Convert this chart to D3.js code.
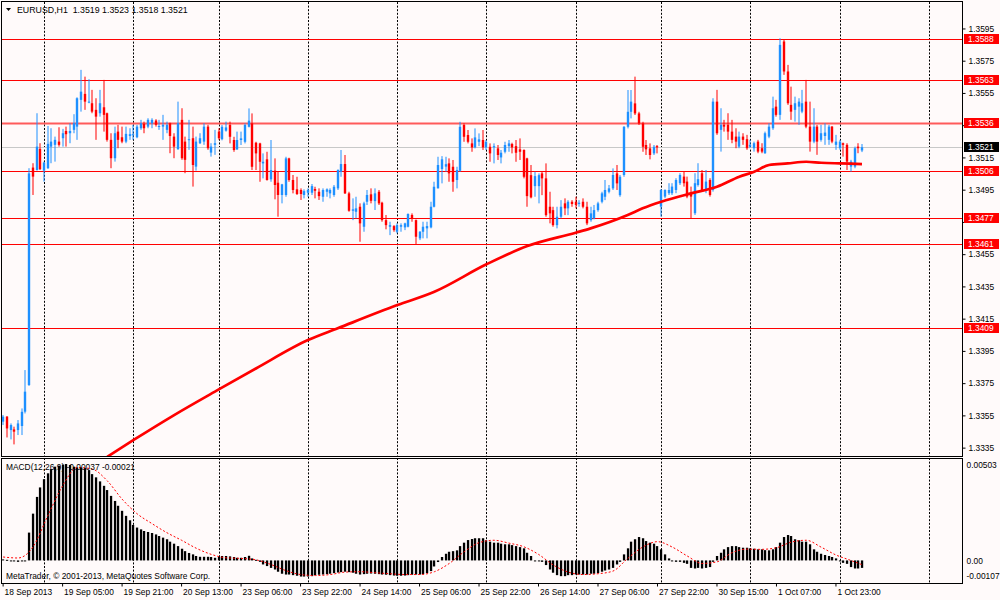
<!DOCTYPE html>
<html>
<head>
<meta charset="utf-8">
<script src="https://cdn.jsdelivr.net/npm/d3@7"></script>
<style>
  body { margin: 0; background: #fffafa; }
  svg { display: block; }
  text { font-family: "Liberation Sans", Arial, sans-serif; font-size: 8.4px; fill: #000; }
</style>
</head>
<body>
<div id="chart"></div>
<script>
// EURUSD H1 bars, 18 Sep 2013 13:00 .. 2 Oct 2013 06:00
const open = [1.33508,1.33539,1.33456,1.33460,1.33456,1.33481,1.33570,1.33735,1.35084,1.35069,
  1.35200,1.35065,1.35080,1.35214,1.35225,1.35245,1.35266,1.35311,1.35297,1.35318,
  1.35338,1.35504,1.35541,1.35487,1.35483,1.35442,1.35421,1.35458,1.35421,1.35256,
  1.35142,1.35307,1.35272,1.35245,1.35280,1.35287,1.35272,1.35328,1.35355,1.35338,
  1.35359,1.35376,1.35338,1.35338,1.35318,1.35359,1.35276,1.35198,1.35380,1.35245,
  1.35256,1.35266,1.35090,1.35235,1.35245,1.35338,1.35177,1.35225,1.35307,1.35260,
  1.35313,1.35348,1.35255,1.35197,1.35255,1.35244,1.35337,1.35358,1.35238,1.35234,
  1.35110,1.35135,1.35011,1.35065,1.34990,1.34914,1.34914,1.35141,1.35007,1.34949,
  1.34945,1.34914,1.34928,1.34928,1.34951,1.34934,1.34903,1.34934,1.34924,1.34914,
  1.34955,1.35058,1.35106,1.34924,1.34816,1.34810,1.34841,1.34717,1.34872,1.34918,
  1.34876,1.34934,1.34866,1.34758,1.34717,1.34721,1.34686,1.34717,1.34713,1.34717,
  1.34790,1.34758,1.34645,1.34686,1.34707,1.34713,1.34841,1.34955,1.35075,1.35090,
  1.35110,1.35089,1.35007,1.35064,1.35348,1.35286,1.35234,1.35209,1.35244,1.35255,
  1.35209,1.35213,1.35209,1.35203,1.35147,1.35182,1.35217,1.35230,1.35217,1.35197,
  1.35193,1.35141,1.35037,1.34969,1.34969,1.35048,1.35017,1.34841,1.34820,1.34727,
  1.34779,1.34862,1.34831,1.34872,1.34872,1.34858,1.34872,1.34841,1.34758,1.34769,
  1.34820,1.34872,1.34903,1.34934,1.34955,1.35048,1.34913,1.35038,1.35337,1.35430,
  1.35482,1.35420,1.35358,1.35224,1.35203,1.35172,1.35217,1.34842,1.34904,1.34925,
  1.34925,1.34945,1.34987,1.35028,1.34997,1.34925,1.34801,1.34976,1.35049,1.34945,
  1.35007,1.34945,1.35493,1.35318,1.35349,1.35349,1.35307,1.35276,1.35214,1.35276,
  1.35260,1.35214,1.35204,1.35245,1.35204,1.35173,1.35276,1.35328,1.35462,1.35411,
  1.35866,1.35680,1.35473,1.35442,1.35462,1.35431,1.35493,1.35338,1.35245,1.35338,
  1.35256,1.35280,1.35256,1.35338,1.35225,1.35204,1.35235,1.35225,1.35090,1.35090,
  1.35214,1.35190];
const high = [1.33549,1.33543,1.33497,1.33477,1.33518,1.33590,1.33828,1.35080,1.35111,1.35421,
  1.35235,1.35121,1.35342,1.35328,1.35276,1.35334,1.35324,1.35338,1.35359,1.35415,
  1.35520,1.35690,1.35648,1.35632,1.35566,1.35514,1.35566,1.35628,1.35425,1.35297,
  1.35338,1.35349,1.35338,1.35338,1.35328,1.35349,1.35349,1.35380,1.35369,1.35390,
  1.35390,1.35384,1.35380,1.35411,1.35369,1.35363,1.35297,1.35493,1.35452,1.35276,
  1.35380,1.35338,1.35276,1.35297,1.35359,1.35349,1.35235,1.35318,1.35328,1.35348,
  1.35369,1.35369,1.35275,1.35307,1.35307,1.35358,1.35451,1.35420,1.35244,1.35238,
  1.35172,1.35182,1.35255,1.35141,1.35058,1.34983,1.35151,1.35145,1.35038,1.35027,
  1.34955,1.34949,1.34955,1.34982,1.34965,1.34955,1.34955,1.34955,1.34955,1.34976,
  1.35073,1.35193,1.35162,1.34934,1.34893,1.34903,1.34862,1.34872,1.34945,1.34955,
  1.34955,1.34945,1.34872,1.34790,1.34748,1.34727,1.34738,1.34738,1.34742,1.34800,
  1.34800,1.34762,1.34690,1.34748,1.34748,1.34872,1.34996,1.35151,1.35155,1.35151,
  1.35141,1.35131,1.35089,1.35368,1.35358,1.35317,1.35265,1.35327,1.35296,1.35317,
  1.35255,1.35234,1.35234,1.35224,1.35193,1.35244,1.35255,1.35238,1.35255,1.35265,
  1.35197,1.35145,1.35100,1.35058,1.35048,1.35058,1.35110,1.34934,1.34841,1.34841,
  1.34882,1.34893,1.34882,1.34882,1.34903,1.34882,1.34893,1.34872,1.34841,1.34852,
  1.34872,1.34934,1.35007,1.34976,1.35079,1.35100,1.35038,1.35341,1.35565,1.35565,
  1.35648,1.35430,1.35368,1.35255,1.35234,1.35224,1.35224,1.34950,1.34949,1.34987,
  1.34987,1.35018,1.35049,1.35059,1.35028,1.34966,1.35049,1.35111,1.35069,1.35069,
  1.35018,1.35514,1.35566,1.35452,1.35380,1.35421,1.35380,1.35328,1.35307,1.35297,
  1.35287,1.35256,1.35245,1.35256,1.35235,1.35307,1.35359,1.35524,1.35504,1.35886,
  1.35876,1.35721,1.35586,1.35524,1.35514,1.35566,1.35628,1.35493,1.35452,1.35349,
  1.35349,1.35359,1.35349,1.35342,1.35287,1.35256,1.35239,1.35235,1.35132,1.35214,
  1.35235,1.35230];
const low = [1.33487,1.33410,1.33398,1.33367,1.33425,1.33425,1.33559,1.33730,1.34914,1.35065,
  1.35069,1.34997,1.35076,1.35111,1.35121,1.35214,1.35214,1.35214,1.35235,1.35297,
  1.35256,1.35431,1.35442,1.35483,1.35421,1.35256,1.35400,1.35307,1.35245,1.35080,
  1.35121,1.35204,1.35235,1.35235,1.35256,1.35256,1.35266,1.35318,1.35297,1.35328,
  1.35328,1.35338,1.35318,1.35256,1.35297,1.35173,1.35142,1.35194,1.35132,1.35049,
  1.35194,1.34966,1.35065,1.35230,1.35225,1.35194,1.35152,1.35163,1.35256,1.35253,
  1.35307,1.35234,1.35182,1.35193,1.35224,1.35234,1.35333,1.35069,1.35069,1.34996,
  1.35017,1.35003,1.34996,1.34887,1.34779,1.34862,1.34903,1.34996,1.34924,1.34914,
  1.34883,1.34893,1.34903,1.34914,1.34893,1.34883,1.34872,1.34903,1.34893,1.34903,
  1.34945,1.35027,1.34920,1.34810,1.34758,1.34769,1.34624,1.34686,1.34852,1.34862,
  1.34821,1.34852,1.34748,1.34701,1.34665,1.34686,1.34676,1.34686,1.34696,1.34713,
  1.34748,1.34610,1.34634,1.34645,1.34645,1.34707,1.34837,1.34955,1.34986,1.35058,
  1.34996,1.34934,1.34955,1.35058,1.35244,1.35234,1.35182,1.35203,1.35217,1.35193,
  1.35193,1.35120,1.35110,1.35131,1.35110,1.35172,1.35182,1.35172,1.35120,1.35131,
  1.35017,1.34841,1.34893,1.34903,1.34862,1.34913,1.34779,1.34738,1.34717,1.34707,
  1.34769,1.34789,1.34789,1.34841,1.34831,1.34841,1.34831,1.34727,1.34748,1.34763,
  1.34810,1.34862,1.34882,1.34924,1.34945,1.34945,1.34903,1.35027,1.35327,1.35389,
  1.35410,1.35348,1.35182,1.35162,1.35135,1.35162,1.35172,1.34780,1.34894,1.34914,
  1.34914,1.34925,1.34976,1.34966,1.34894,1.34770,1.34790,1.34966,1.34935,1.34925,
  1.34904,1.34935,1.35287,1.35183,1.35307,1.35256,1.35235,1.35204,1.35204,1.35225,
  1.35194,1.35204,1.35183,1.35173,1.35173,1.35169,1.35266,1.35318,1.35400,1.35380,
  1.35659,1.35473,1.35380,1.35369,1.35349,1.35421,1.35328,1.35183,1.35235,1.35163,
  1.35245,1.35225,1.35225,1.35235,1.35194,1.35194,1.35152,1.35069,1.35059,1.35080,
  1.35173,1.35180];
const close = [1.33539,1.33466,1.33487,1.33446,1.33497,1.33569,1.33694,1.35048,1.35028,1.35214,
  1.35074,1.35115,1.35231,1.35245,1.35256,1.35225,1.35297,1.35291,1.35311,1.35359,
  1.35514,1.35555,1.35493,1.35493,1.35431,1.35400,1.35483,1.35411,1.35256,1.35142,
  1.35297,1.35256,1.35245,1.35293,1.35291,1.35291,1.35338,1.35359,1.35328,1.35380,
  1.35380,1.35349,1.35342,1.35349,1.35349,1.35280,1.35214,1.35359,1.35142,1.35132,
  1.35260,1.35100,1.35245,1.35266,1.35338,1.35204,1.35214,1.35235,1.35266,1.35337,
  1.35333,1.35275,1.35193,1.35255,1.35265,1.35348,1.35375,1.35089,1.35172,1.35120,
  1.35120,1.35007,1.35069,1.34976,1.34914,1.34980,1.35141,1.35007,1.34945,1.34920,
  1.34920,1.34938,1.34945,1.34969,1.34940,1.34907,1.34945,1.34949,1.34945,1.34965,
  1.35069,1.35106,1.34924,1.34816,1.34825,1.34831,1.34738,1.34862,1.34914,1.34878,
  1.34924,1.34862,1.34758,1.34727,1.34727,1.34696,1.34727,1.34727,1.34738,1.34796,
  1.34769,1.34655,1.34686,1.34717,1.34721,1.34841,1.34965,1.35100,1.35135,1.35105,
  1.35048,1.34996,1.35069,1.35337,1.35275,1.35244,1.35209,1.35271,1.35259,1.35209,
  1.35244,1.35172,1.35217,1.35162,1.35176,1.35224,1.35234,1.35209,1.35176,1.35182,
  1.35027,1.34907,1.34899,1.35031,1.35037,1.35017,1.34789,1.34800,1.34727,1.34779,
  1.34841,1.34831,1.34872,1.34858,1.34852,1.34866,1.34841,1.34738,1.34800,1.34820,
  1.34862,1.34924,1.34945,1.34955,1.35038,1.34986,1.35027,1.35337,1.35430,1.35493,
  1.35420,1.35358,1.35213,1.35197,1.35162,1.35213,1.35209,1.34945,1.34945,1.34945,
  1.34966,1.35007,1.35038,1.34987,1.34904,1.34904,1.34987,1.35012,1.34945,1.34997,
  1.34914,1.35493,1.35297,1.35349,1.35338,1.35307,1.35256,1.35245,1.35276,1.35256,
  1.35204,1.35225,1.35235,1.35183,1.35183,1.35297,1.35338,1.35452,1.35411,1.35845,
  1.35680,1.35483,1.35431,1.35483,1.35493,1.35483,1.35338,1.35245,1.35338,1.35245,
  1.35297,1.35301,1.35338,1.35245,1.35245,1.35245,1.35225,1.35121,1.35121,1.35204,
  1.35204,1.35210];

// moving average, read at these bar indices
const maIdx = [28,35,46,58,68,82,90,106,116,130,141,154,158,168,172,177,185,192,198,202,206,211,216,220,225,231];
const maVal = [1.33290,1.33393,1.33549,1.33708,1.33838,1.34014,1.34087,1.34231,1.34314,1.34484,1.34597,1.34680,1.34707,
  1.34790,1.34831,1.34872,1.34924,1.34965,1.35027,1.35058,1.35100,1.35110,1.35120,1.35114,1.35110,1.35106];

// MACD(12,26,9) main histogram, one value per bar
const macd = [0.00005,0.00003,-0.00003,-0.00005,-0.00007,-0.00005,-0.00002,0.00138,0.00232,0.00315,
  0.00362,0.00403,0.00432,0.00453,0.00465,0.00470,0.00475,0.00478,0.00473,0.00465,
  0.00461,0.00461,0.00458,0.00448,0.00428,0.00412,0.00392,0.00370,0.00349,0.00320,
  0.00295,0.00271,0.00246,0.00221,0.00199,0.00176,0.00163,0.00154,0.00146,0.00141,
  0.00136,0.00129,0.00121,0.00113,0.00105,0.00093,0.00083,0.00071,0.00058,0.00046,
  0.00037,0.00030,0.00022,0.00018,0.00018,0.00018,0.00017,0.00013,0.00017,0.00022,
  0.00022,0.00020,0.00017,0.00013,0.00013,0.00017,0.00023,0.00010,0.00003,-0.00007,
  -0.00020,-0.00028,-0.00037,-0.00045,-0.00056,-0.00066,-0.00070,-0.00070,-0.00073,-0.00076,
  -0.00080,-0.00080,-0.00080,-0.00078,-0.00073,-0.00071,-0.00070,-0.00068,-0.00066,-0.00063,
  -0.00060,-0.00058,-0.00056,-0.00058,-0.00061,-0.00066,-0.00070,-0.00068,-0.00066,-0.00065,
  -0.00066,-0.00068,-0.00070,-0.00071,-0.00073,-0.00075,-0.00076,-0.00076,-0.00075,-0.00073,
  -0.00071,-0.00070,-0.00070,-0.00068,-0.00063,-0.00053,-0.00030,-0.00008,0.00017,0.00033,
  0.00043,0.00046,0.00050,0.00071,0.00088,0.00101,0.00106,0.00110,0.00110,0.00110,
  0.00100,0.00093,0.00088,0.00088,0.00083,0.00080,0.00080,0.00076,0.00071,0.00066,
  0.00060,0.00038,0.00022,0.00000,-0.00003,-0.00007,-0.00023,-0.00045,-0.00061,-0.00073,
  -0.00078,-0.00078,-0.00073,-0.00073,-0.00070,-0.00070,-0.00070,-0.00070,-0.00066,-0.00066,
  -0.00063,-0.00056,-0.00050,-0.00045,-0.00037,-0.00020,-0.00007,0.00030,0.00060,0.00093,
  0.00105,0.00116,0.00110,0.00096,0.00088,0.00083,0.00071,0.00055,0.00030,0.00010,
  0.00000,-0.00007,-0.00007,-0.00012,-0.00017,-0.00037,-0.00040,-0.00037,-0.00040,-0.00037,
  -0.00033,-0.00007,0.00022,0.00038,0.00055,0.00066,0.00071,0.00071,0.00066,0.00063,
  0.00063,0.00060,0.00058,0.00055,0.00055,0.00051,0.00050,0.00055,0.00066,0.00088,
  0.00116,0.00126,0.00121,0.00105,0.00100,0.00093,0.00093,0.00080,0.00055,0.00043,
  0.00033,0.00027,0.00022,0.00017,0.00010,0.00000,-0.00012,-0.00017,-0.00033,-0.00040,
  -0.00040,-0.00037];

// signal line, read at these bar indices
const sigIdx = [0,4,8,12,16,20,24,28,32,36,40,44,48,52,56,60,64,68,72,76,80,84,88,92,96,100,104,108,112,116,
  120,124,128,132,136,140,144,148,152,156,160,164,168,172,176,180,184,188,192,196,200,204,208,212,216,220,224,228,231];
const sigVal = [0.00017,0.00012,0.00066,0.00221,0.00370,0.00461,0.00453,0.00395,0.00304,0.00232,0.00183,0.00138,0.00100,
  0.00060,0.00030,0.00013,0.00010,0.00003,-0.00020,-0.00050,-0.00070,-0.00075,-0.00070,-0.00058,-0.00056,-0.00061,
  -0.00066,-0.00070,-0.00070,-0.00056,-0.00015,0.00043,0.00088,0.00100,0.00086,0.00068,0.00030,-0.00023,-0.00058,
  -0.00070,-0.00066,-0.00053,0.00010,0.00066,0.00093,0.00066,0.00022,-0.00015,-0.00007,0.00038,0.00056,0.00055,
  0.00063,0.00091,0.00100,0.00066,0.00027,0.00000,-0.00021];

// horizontal levels and current price
const levels = [1.3588, 1.3563, 1.3536, 1.3506, 1.3477, 1.3461, 1.3409];
const lastPrice = 1.3521;

// axis ticks
const priceTicks = [1.3595,1.3575,1.3555,1.3535,1.3515,1.3495,1.3475,1.3455,1.3435,1.3415,1.3395,1.3375,1.3355,1.3335];
const macdTicks = [0.00503, 0, -0.00107];
const macdTickLabels = ["0.00503", "0.00", "-0.00107"];
const dayStarts = [11,35,58,82,106,130,154,177,201,225,249];
const timeIdx = [0,16,32,48,64,80,96,112,128,144,160,176,192,208,224];
const timeLabels = ["18 Sep 2013","19 Sep 05:00","19 Sep 21:00","20 Sep 13:00","23 Sep 06:00","23 Sep 22:00",
  "24 Sep 14:00","25 Sep 06:00","25 Sep 22:00","26 Sep 14:00","27 Sep 06:00","27 Sep 22:00",
  "30 Sep 15:00","1 Oct 07:00","1 Oct 23:00"];

const width = 1000, height = 600;
const L = 2, R = 962, mainTop = 2, mainBot = 456, macdTop = 459, macdBot = 583;
const bull = "#1e90ff", bear = "#ff0000";

const x = d3.scaleLinear().domain([-0.3, 257.9]).range([L, R]);
const y = d3.scaleLinear().domain([1.33295, 1.36111]).range([mainBot, mainTop]);
const ym = d3.scaleLinear().domain([-0.00107, 0.00503]).range([582, 459]);
const px = v => Math.round(v) + 0.5;

const svg = d3.select("#chart").append("svg")
  .attr("width", width).attr("height", height);

svg.append("rect").attr("width", width).attr("height", height).attr("fill", "#fffafa");

const defs = svg.append("defs");
defs.append("clipPath").attr("id", "clipMain")
  .append("rect").attr("x", L).attr("y", mainTop).attr("width", R - L).attr("height", mainBot - mainTop);
defs.append("clipPath").attr("id", "clipMacd")
  .append("rect").attr("x", L).attr("y", macdTop).attr("width", R - L).attr("height", macdBot - macdTop);

// day separators (both panels)
[[mainTop, mainBot], [macdTop - 1, macdBot]].forEach(([t, b]) => {
  svg.append("g").selectAll("line").data(dayStarts).join("line")
    .attr("x1", d => px(x(d))).attr("x2", d => px(x(d)))
    .attr("y1", t).attr("y2", b)
    .attr("stroke", "#000").attr("stroke-width", 1).attr("stroke-dasharray", "2,1.6");
});

const main = svg.append("g").attr("clip-path", "url(#clipMain)");

// current price line
main.append("line")
  .attr("x1", L).attr("x2", R).attr("y1", px(y(lastPrice))).attr("y2", px(y(lastPrice)))
  .attr("stroke", "#c8c8c8");

// levels
main.selectAll(".level").data(levels).join("line")
  .attr("class", "level")
  .attr("x1", L).attr("x2", R)
  .attr("y1", d => px(y(d))).attr("y2", d => px(y(d)))
  .attr("stroke", d => d === 1.3536 ? "#ff5a5a" : "#ff0000")
  .attr("stroke-width", d => d === 1.3536 ? 2.2 : 1);

// candles
const bars = d3.range(close.length);
const candle = main.selectAll(".bar").data(bars).join("g").attr("class", "bar");
candle.append("line")
  .attr("x1", i => px(x(i)) - 0.5).attr("x2", i => px(x(i)) - 0.5)
  .attr("y1", i => y(high[i])).attr("y2", i => y(low[i]))
  .attr("stroke", i => close[i] >= open[i] ? bull : bear).attr("stroke-width", 1);
candle.append("rect")
  .attr("x", i => px(x(i)) - 1.7)
  .attr("width", 2.4)
  .attr("y", i => y(Math.max(open[i], close[i])))
  .attr("height", i => Math.max(1, Math.abs(y(open[i]) - y(close[i]))))
  .attr("fill", i => close[i] >= open[i] ? bull : bear);

// moving average
main.append("path")
  .datum(maIdx.map((d, k) => [d, maVal[k]]))
  .attr("fill", "none").attr("stroke", "#ff0000").attr("stroke-width", 2.7)
  .attr("stroke-linejoin", "round")
  .attr("d", d3.line().curve(d3.curveMonotoneX).x(d => x(d[0])).y(d => y(d[1])));

// MACD panel
const mg = svg.append("g").attr("clip-path", "url(#clipMacd)");
mg.selectAll(".hist").data(bars).join("rect")
  .attr("class", "hist")
  .attr("x", i => px(x(i)) - 1.6)
  .attr("width", 2.3)
  .attr("y", i => Math.min(ym(0), ym(macd[i])))
  .attr("height", i => Math.max(1, Math.abs(ym(macd[i]) - ym(0))))
  .attr("fill", "#000");
mg.append("path")
  .datum(sigIdx.map((d, k) => [d, sigVal[k]]))
  .attr("fill", "none").attr("stroke", "#ff0000").attr("stroke-width", 1)
  .attr("stroke-dasharray", "2,2")
  .attr("d", d3.line().curve(d3.curveMonotoneX).x(d => x(d[0])).y(d => ym(d[1])));

// panel frames
svg.append("rect").attr("x", 1.5).attr("y", 1.5).attr("width", R - 1).attr("height", mainBot - 1)
  .attr("fill", "none").attr("stroke", "#000");
svg.append("rect").attr("x", 1.5).attr("y", 458.5).attr("width", R - 1).attr("height", 125)
  .attr("fill", "none").attr("stroke", "#000");

// price axis; labels sitting under a level tag are hidden, as on the terminal
const tagValues = levels.concat([lastPrice]);
const hidden = t => tagValues.some(v => Math.abs(y(v) - y(t)) < 7);
const yAxis = svg.append("g").attr("transform", `translate(${R + 0.5},0.5)`)
  .call(d3.axisRight(y).tickValues(priceTicks).tickSize(3).tickPadding(3)
    .tickFormat(t => hidden(t) ? "" : d3.format(".4f")(t)));
yAxis.select(".domain").remove();
yAxis.selectAll("text").style("font-size", "8.4px").style("font-family", "Liberation Sans, Arial, sans-serif");

// level tags
const tags = svg.append("g");
const tagData = levels.map(v => ({ v, fill: "#ff0000" })).concat([{ v: lastPrice, fill: "#000" }]);
tags.selectAll("rect").data(tagData).join("rect")
  .attr("x", 964).attr("y", d => Math.round(y(d.v)) - 5).attr("width", 35).attr("height", 10)
  .attr("fill", d => d.fill);
tags.selectAll("text").data(tagData).join("text")
  .attr("x", 968).attr("y", d => Math.round(y(d.v)) + 3.3)
  .style("fill", "#fff")
  .text(d => d3.format(".4f")(d.v));

// MACD axis
const mAxis = svg.append("g").attr("transform", `translate(${R + 0.5},0)`)
  .call(d3.axisRight(ym).tickValues(macdTicks).tickSize(0).tickPadding(4)
    .tickFormat((d, k) => macdTickLabels[k]));
mAxis.select(".domain").remove();
mAxis.selectAll("text").style("font-size", "8.4px").style("font-family", "Liberation Sans, Arial, sans-serif")
  .attr("dy", (d, k) => k === 0 ? "1.0em" : k === 2 ? "-0.4em" : "0.32em");

// time axis
const xAxis = svg.append("g").attr("transform", `translate(0,${macdBot + 0.5})`)
  .call(d3.axisBottom(x).tickValues(timeIdx).tickSize(3).tickPadding(1)
    .tickFormat((d, k) => timeLabels[k]));
xAxis.select(".domain").remove();
xAxis.selectAll(".tick line").attr("transform", "translate(-0.5,0)");
xAxis.selectAll("text").attr("text-anchor", "start").attr("x", 1).attr("dy", "0.95em")
  .style("font-size", "8.4px").style("font-family", "Liberation Sans, Arial, sans-serif");

// header and captions
svg.append("path").attr("d", "M6,8 L11,8 L8.5,11 Z").attr("fill", "#000");
svg.append("text").attr("x", 17).attr("y", 12.5).style("font-size", "8.8px")
  .text("EURUSD,H1  1.3519 1.3523 1.3518 1.3521").attr("xml:space", "preserve").style("white-space", "pre");
svg.append("text").attr("x", 6).attr("y", 470).text("MACD(12,26,9) -0.00037 -0.00021");
svg.append("text").attr("x", 6).attr("y", 579).text("MetaTrader, \u00a9 2001-2013, MetaQuotes Software Corp.");
</script>
</body>
</html>
